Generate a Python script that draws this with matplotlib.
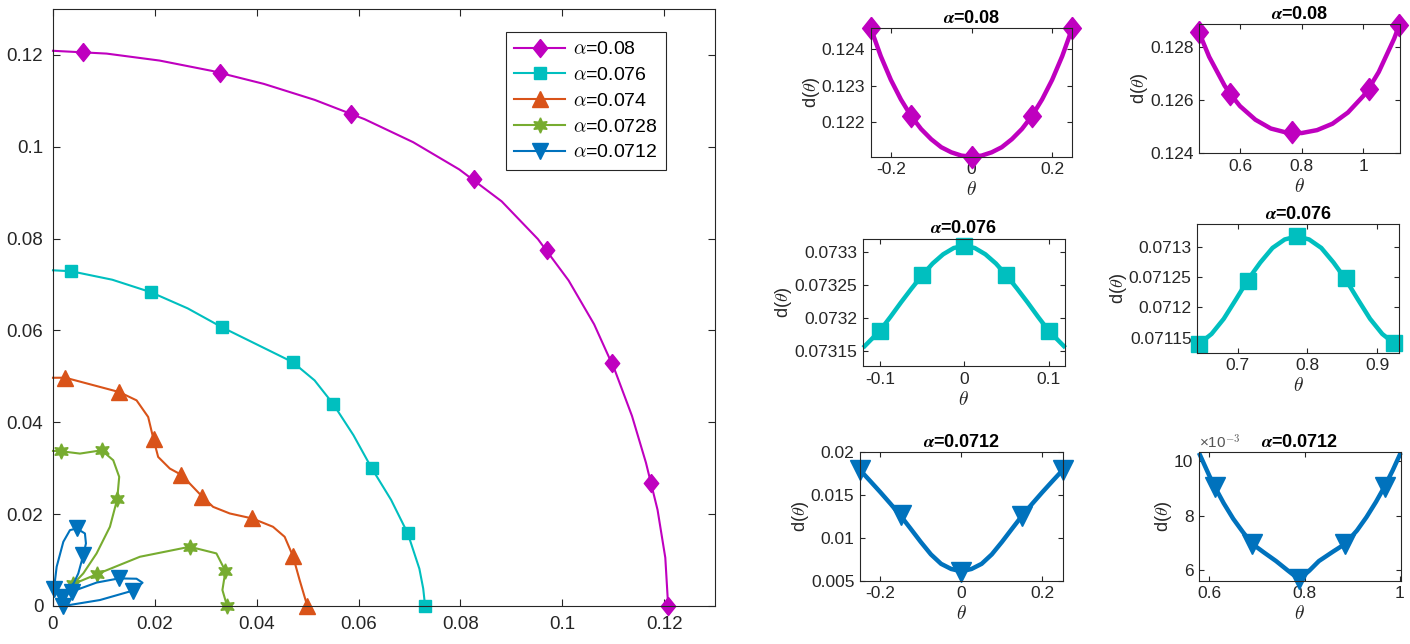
import matplotlib
matplotlib.use("Agg")
import matplotlib.pyplot as plt
from matplotlib.lines import Line2D
from matplotlib.ticker import FuncFormatter

plt.rcParams['font.family'] = ['Liberation Sans', 'DejaVu Sans']
plt.rcParams['mathtext.fontset'] = 'cm'

# ---------------- main plot data ----------------
labels = [r'$\alpha$=0.08', r'$\alpha$=0.076', r'$\alpha$=0.074', r'$\alpha$=0.0728', r'$\alpha$=0.0712']

# alpha = 0.08
mag_x = [0, 0.01052, 0.02094, 0.03122, 0.04138, 0.05139, 0.0612, 0.07072, 0.07977, 0.08811,
         0.09522, 0.10125, 0.10626, 0.1103, 0.1137, 0.11644, 0.11872, 0.12024, 0.1208]
mag_y = [0.1209, 0.12029, 0.11877, 0.11652, 0.1137, 0.11021, 0.106, 0.101, 0.09507, 0.08811,
         0.0799, 0.07089, 0.06135, 0.05143, 0.04138, 0.0312, 0.02093, 0.01052, 0]
mag_mx = [0.00594, 0.03275, 0.05856, 0.08261, 0.0970, 0.1097, 0.1175, 0.1208]
mag_my = [0.1207, 0.1161, 0.10724, 0.09298, 0.07754, 0.0529, 0.0268, 0]

# alpha = 0.076
cya_x = [0, 0.00353, 0.01164, 0.01922, 0.02645, 0.03314, 0.04706, 0.05137, 0.05503, 0.0590,
         0.06255, 0.06639, 0.06967, 0.07195, 0.0727, 0.07307]
cya_y = [0.0731, 0.0729, 0.07105, 0.06833, 0.06481, 0.06072, 0.05311, 0.04913, 0.04398, 0.0372,
         0.03007, 0.02312, 0.0158, 0.0081, 0.0038, 0]
cya_mx = [0.00353, 0.01922, 0.03314, 0.04706, 0.05503, 0.06255, 0.06967, 0.07307]
cya_my = [0.0729, 0.06833, 0.06072, 0.05311, 0.04398, 0.03007, 0.0158, 0]

# alpha = 0.074
ora_x = [0, 0.00242, 0.013, 0.01641, 0.01869, 0.01974, 0.02065, 0.02294, 0.02523, 0.02935,
         0.03144, 0.03471, 0.03915, 0.0432, 0.04549, 0.04712, 0.04843, 0.04994]
ora_y = [0.0497, 0.04971, 0.04659, 0.04478, 0.04116, 0.0363, 0.03246, 0.02993, 0.02855, 0.02377,
         0.02159, 0.02015, 0.01906, 0.01725, 0.01507, 0.01087, 0.00565, 0]
ora_mx = [0.00242, 0.013, 0.01974, 0.02523, 0.02935, 0.03915, 0.04712, 0.04994]
ora_my = [0.04971, 0.04659, 0.0363, 0.02855, 0.02377, 0.01906, 0.01087, 0]

# alpha = 0.0728
grn_x = [0, 0.00157, 0.00529, 0.00954, 0.01183, 0.013, 0.01261, 0.01118, 0.00856, 0.00595,
         0.00399, 0.00869, 0.01706, 0.02686, 0.03209, 0.03386, 0.03327, 0.03418]
grn_y = [0.03377, 0.0337, 0.03319, 0.03391, 0.03174, 0.02812, 0.02326, 0.01725, 0.01145, 0.0071,
         0.00478, 0.00696, 0.01072, 0.0129, 0.01145, 0.00761, 0.00348, 0]
grn_mx = [0.00157, 0.00954, 0.01261, 0.00399, 0.00869, 0.02686, 0.03386, 0.03418]
grn_my = [0.0337, 0.03391, 0.02326, 0.00478, 0.00696, 0.0129, 0.00761, 0]

# alpha = 0.0712
blu_x = [0, 0.0002, 0.00072, 0.00203, 0.00333, 0.00464, 0.00627, 0.00647, 0.00595, 0.00497,
         0.00412, 0.0017, 0.00366, 0.00856, 0.01294, 0.0164, 0.01758, 0.01562, 0.00922, 0.00203]
blu_y = [0.0039, 0.0038, 0.00855, 0.01399, 0.01652, 0.01688, 0.0158, 0.01362, 0.01109, 0.0071,
         0.00507, 0.00203, 0.00312, 0.0051, 0.00601, 0.00594, 0.00507, 0.00333, 0.0013, 0]
blu_mx = [0.0002, 0.00464, 0.00595, 0.0017, 0.00366, 0.01294, 0.01562, 0.00203]
blu_my = [0.0038, 0.01688, 0.01109, 0.00203, 0.00312, 0.00601, 0.00333, 0]

# ---------------- small panels data ----------------
tl_t = [-0.25, -0.225, -0.2, -0.175, -0.15, -0.125, -0.1, -0.075, -0.05, -0.025, 0,
        0.025, 0.05, 0.075, 0.1, 0.125, 0.15, 0.175, 0.2, 0.225, 0.25]
tl_d = [0.12458, 0.12381, 0.12316, 0.12262, 0.12217, 0.12181, 0.12153, 0.12131, 0.12117, 0.12108, 0.12105,
        0.12108, 0.12117, 0.12131, 0.12153, 0.12181, 0.12217, 0.12262, 0.12316, 0.12381, 0.12458]
tl_mt = [-0.25, -0.15, 0, 0.15, 0.25]
tl_md = [0.12458, 0.12217, 0.12105, 0.12217, 0.12458]

tr_t = [0.467, 0.5, 0.55, 0.568, 0.6, 0.65, 0.7, 0.75, 0.768, 0.8, 0.85, 0.9, 0.95, 1.0,
        1.017, 1.05, 1.1, 1.117]
tr_d = [0.12854, 0.12762, 0.12654, 0.12623, 0.12577, 0.12526, 0.12493, 0.12478, 0.12477, 0.12476,
        0.12487, 0.12511, 0.12553, 0.12615, 0.12642, 0.12705, 0.1283, 0.12882]
tr_mt = [0.467, 0.568, 0.768, 1.017, 1.117]
tr_md = [0.12854, 0.12623, 0.12479, 0.12642, 0.12882]

ml_t = [-0.12, -0.11, -0.1, -0.0875, -0.075, -0.0625, -0.05, -0.0375, -0.025, -0.0125, 0,
        0.0125, 0.025, 0.0375, 0.05, 0.0625, 0.075, 0.0875, 0.1, 0.11, 0.12]
ml_d = [0.073155, 0.073168, 0.073181, 0.073202, 0.073224, 0.073245, 0.073265, 0.073283, 0.073297,
        0.0733065, 0.07331,
        0.0733065, 0.073297, 0.073283, 0.073265, 0.073245, 0.073224, 0.073202, 0.073181, 0.073168,
        0.073155]
ml_mt = [-0.1, -0.05, 0, 0.05, 0.1]
ml_md = [0.073181, 0.073265, 0.07331, 0.073265, 0.073181]

mr_t = [0.645, 0.6625, 0.68, 0.6975, 0.715, 0.7325, 0.75, 0.7675, 0.785,
        0.8025, 0.82, 0.8375, 0.855, 0.8725, 0.89, 0.9075, 0.925]
mr_d = [0.07114, 0.071156, 0.071181, 0.071213, 0.071246, 0.071274, 0.071298, 0.071312, 0.071317,
        0.071312, 0.071298, 0.071274, 0.071246, 0.071213, 0.071181, 0.071156, 0.07114]
mr_mt = [0.645, 0.715, 0.785, 0.855, 0.925]
mr_md = [0.071139, 0.071244, 0.071317, 0.071248, 0.071141]

bl_t = [-0.25, -0.225, -0.2, -0.175, -0.15, -0.125, -0.1, -0.075, -0.05, -0.025, 0,
        0.025, 0.05, 0.075, 0.1, 0.125, 0.15, 0.175, 0.2, 0.225, 0.25]
bl_d = [0.01793, 0.01665, 0.01535, 0.014, 0.0126, 0.01107, 0.00952, 0.00807, 0.00697, 0.00637, 0.0061,
        0.00637, 0.00697, 0.00807, 0.00952, 0.01107, 0.0126, 0.014, 0.01535, 0.01665, 0.01793]
bl_mt = [-0.25, -0.148, 0, 0.149, 0.25]
bl_md = [0.01793, 0.01266, 0.00605, 0.01256, 0.01793]

br_t = [0.578, 0.6, 0.611, 0.63, 0.65, 0.67, 0.69, 0.715, 0.74, 0.765, 0.7885,
        0.81, 0.83, 0.86, 0.885, 0.91, 0.93, 0.95, 0.968, 0.985, 1.002]
br_d = [10.3e-3, 9.45e-3, 9.06e-3, 8.45e-3, 7.88e-3, 7.4e-3, 6.96e-3, 6.64e-3, 6.33e-3, 5.98e-3, 5.66e-3,
        5.98e-3, 6.33e-3, 6.68e-3, 6.96e-3, 7.45e-3, 7.94e-3, 8.5e-3, 9.06e-3, 9.65e-3, 10.3e-3]
br_mt = [0.611, 0.69, 0.7885, 0.885, 0.968]
br_md = [9.06e-3, 6.96e-3, 5.66e-3, 6.96e-3, 9.06e-3]

# ---------------- styles ----------------
c_mag = '#BF00BF'
c_cya = '#00BFBF'
c_ora = '#D95319'
c_grn = '#77AC30'
c_blu = '#0072BD'
ax_col = '#262626'
diamond = [(0, 1), (0.8, 0), (0, -1), (-0.8, 0), (0, 1)]
hexstar = (6, 1, 0)


def fmt_g(v, pos):
    return '%g' % round(v, 8)


def style_axes(ax, fs, tl, pad):
    for s in ax.spines.values():
        s.set_color(ax_col)
        s.set_linewidth(0.8)
    ax.tick_params(direction='in', top=True, right=True, colors=ax_col,
                   labelsize=fs, length=tl, width=0.8, labelcolor=ax_col, pad=pad)


fig = plt.figure(figsize=(14.1, 6.44), dpi=100)

# main axes
ax = fig.add_axes([53 / 1410, 1 - 606 / 644, (715 - 53) / 1410, (606 - 9) / 644])
curves = [
    (mag_x, mag_y, mag_mx, mag_my, c_mag, diamond, 13),
    (cya_x, cya_y, cya_mx, cya_my, c_cya, 's', 8.5),
    (ora_x, ora_y, ora_mx, ora_my, c_ora, '^', 12),
    (grn_x, grn_y, grn_mx, grn_my, c_grn, hexstar, 11),
    (blu_x, blu_y, blu_mx, blu_my, c_blu, 'v', 12),
]
handles = []
for (cx, cy, mx, my, col, mk, ms), lab in zip(curves, labels):
    ax.plot(cx, cy, color=col, lw=1.5, clip_on=False, solid_joinstyle='round')
    ax.plot(mx, my, ls='none', marker=mk, ms=ms, color=col, mec=col, clip_on=False)
    handles.append(Line2D([], [], color=col, lw=1.5, marker=mk, ms=ms, mec=col, label=lab))

ax.set_xlim(0, 0.13)
ax.set_ylim(0, 0.13)
ax.set_xticks([0, 0.02, 0.04, 0.06, 0.08, 0.1, 0.12])
ax.set_yticks([0, 0.02, 0.04, 0.06, 0.08, 0.1, 0.12])
ax.xaxis.set_major_formatter(FuncFormatter(fmt_g))
ax.yaxis.set_major_formatter(FuncFormatter(fmt_g))
style_axes(ax, 13.5, 5, 7)
leg = ax.legend(handles=handles, loc='upper right', bbox_to_anchor=(666 / 1410, 1 - 32 / 644),
                bbox_transform=fig.transFigure, borderaxespad=0, fontsize=14,
                handlelength=2.6, labelspacing=0.42, handletextpad=0.4, borderpad=0.45,
                fancybox=False, framealpha=1)
leg.get_frame().set_edgecolor(ax_col)
leg.get_frame().set_linewidth(0.8)

# small panels
panels = [
    (870.7, 1072.3, 28.3, 156.7, tl_t, tl_d, tl_mt, tl_md, c_mag, diamond, 16,
     (-0.25, 0.25), (0.12105, 0.124575), [-0.2, 0, 0.2], [0.122, 0.123, 0.124], '0.08'),
    (1199, 1400, 24.3, 153.3, tr_t, tr_d, tr_mt, tr_md, c_mag, diamond, 16,
     (0.467, 1.119), (0.124, 0.12884), [0.6, 0.8, 1], [0.124, 0.126, 0.128], '0.08'),
    (862.7, 1065, 239, 366, ml_t, ml_d, ml_mt, ml_md, c_cya, 's', 11,
     (-0.1205, 0.1195), (0.0731272, 0.0733202), [-0.1, 0, 0.1],
     [0.07315, 0.0732, 0.07325, 0.0733], '0.076'),
    (1197.3, 1399.3, 224.3, 352.7, mr_t, mr_d, mr_mt, mr_md, c_cya, 's', 11,
     (0.642, 0.932), (0.071125, 0.071337), [0.7, 0.8, 0.9],
     [0.07115, 0.0712, 0.07125, 0.0713], '0.076'),
    (860, 1062.7, 452.3, 580.7, bl_t, bl_d, bl_mt, bl_md, c_blu, 'v', 15,
     (-0.25, 0.25), (0.005, 0.02), [-0.2, 0, 0.2], [0.005, 0.01, 0.015, 0.02], '0.0712'),
    (1199, 1400.7, 452.3, 580.7, br_t, br_d, br_mt, br_md, c_blu, 'v', 15,
     (0.578, 1.002), (5.61e-3, 10.32e-3), [0.6, 0.8, 1], [6e-3, 8e-3, 10e-3], '0.0712'),
]
for i, (l, r, t, b, tt, dd, mt, md, col, mk, ms, xl, yl, xt, yt, a) in enumerate(panels):
    sax = fig.add_axes([l / 1410, 1 - b / 644, (r - l) / 1410, (b - t) / 644])
    sax.plot(tt, dd, color=col, lw=3.2, clip_on=False, solid_joinstyle='round',
             solid_capstyle='butt')
    sax.plot(mt, md, ls='none', marker=mk, ms=ms, color=col, mec=col, clip_on=False)
    sax.set_xlim(*xl)
    sax.set_ylim(*yl)
    sax.set_xticks(xt)
    sax.set_yticks(yt)
    sax.xaxis.set_major_formatter(FuncFormatter(fmt_g))
    if i == 5:
        sax.yaxis.set_major_formatter(FuncFormatter(lambda v, p: '%g' % round(v * 1e3, 6)))
        sax.text(0, 1.005, '×10$^{-3}$', transform=sax.transAxes, ha='left', va='bottom',
                 fontsize=11, color='#555555')
    else:
        sax.yaxis.set_major_formatter(FuncFormatter(fmt_g))
    style_axes(sax, 12.5, 3.5, 4)
    sax.set_title(r'$\boldsymbol{\alpha}$=' + a, fontsize=13, fontweight='bold', pad=4,
                  math_fontfamily='stix')
    sax.set_ylabel(r'd($\theta$)', fontsize=13, color=ax_col, labelpad=0)
    sax.set_xlabel(r'$\theta$', fontsize=14, color=ax_col, labelpad=3)

fig.savefig('out.png', dpi=100)
